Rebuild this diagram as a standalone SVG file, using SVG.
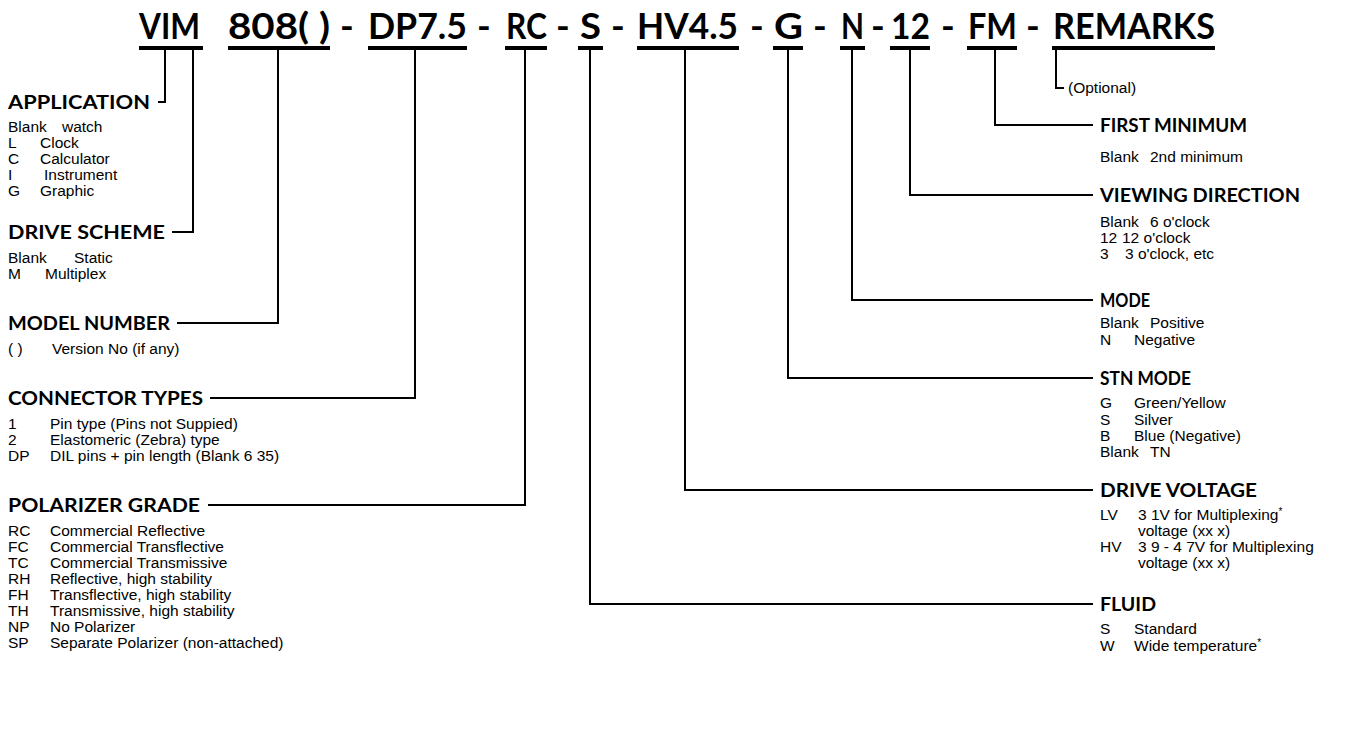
<svg xmlns="http://www.w3.org/2000/svg" width="1366" height="731" viewBox="0 0 1366 731">
<style>
.t{font-family:Lato,"Liberation Sans",sans-serif;font-weight:bold;font-size:37px;fill:#000}
.h{font-family:Lato,"Liberation Sans",sans-serif;font-weight:bold;font-size:19px;fill:#000}
.b{font-family:"Liberation Sans",Arial,sans-serif;font-size:15.5px;fill:#000}
.u{fill:#000}
.c{fill:none;stroke:#000;stroke-width:2}
</style>
<rect width="1366" height="731" fill="#fff"/>
<g id="title">
<text class="t" x="139" y="39" textLength="61" lengthAdjust="spacingAndGlyphs">VIM</text>
<text class="t" x="228" y="39" textLength="102" lengthAdjust="spacingAndGlyphs">808(  )</text>
<text class="t" x="347" y="39" text-anchor="middle">-</text>
<text class="t" x="368" y="39" textLength="99" lengthAdjust="spacingAndGlyphs">DP7.5</text>
<text class="t" x="484" y="39" text-anchor="middle">-</text>
<text class="t" x="506" y="39" textLength="41" lengthAdjust="spacingAndGlyphs">RC</text>
<text class="t" x="563" y="39" text-anchor="middle">-</text>
<text class="t" x="580" y="39" textLength="21" lengthAdjust="spacingAndGlyphs">S</text>
<text class="t" x="618" y="39" text-anchor="middle">-</text>
<text class="t" x="637" y="39" textLength="101" lengthAdjust="spacingAndGlyphs">HV4.5</text>
<text class="t" x="757" y="39" text-anchor="middle">-</text>
<text class="t" x="774" y="39" textLength="29" lengthAdjust="spacingAndGlyphs">G</text>
<text class="t" x="820" y="39" text-anchor="middle">-</text>
<text class="t" x="841" y="39" textLength="23" lengthAdjust="spacingAndGlyphs">N</text>
<text class="t" x="878" y="39" text-anchor="middle">-</text>
<text class="t" x="891" y="39" textLength="39" lengthAdjust="spacingAndGlyphs">12</text>
<text class="t" x="948" y="39" text-anchor="middle">-</text>
<text class="t" x="968" y="39" textLength="49" lengthAdjust="spacingAndGlyphs">FM</text>
<text class="t" x="1033" y="39" text-anchor="middle">-</text>
<text class="t" x="1053" y="39" textLength="162" lengthAdjust="spacingAndGlyphs">REMARKS</text>
<rect class="u" x="139" y="46" width="64" height="4"/>
<rect class="u" x="228" y="46" width="102" height="4"/>
<rect class="u" x="368" y="46" width="99" height="4"/>
<rect class="u" x="505" y="46" width="42" height="4"/>
<rect class="u" x="578" y="46" width="25" height="4"/>
<rect class="u" x="637" y="46" width="102" height="4"/>
<rect class="u" x="773" y="46" width="30" height="4"/>
<rect class="u" x="840" y="46" width="25" height="4"/>
<rect class="u" x="890" y="46" width="40" height="4"/>
<rect class="u" x="967" y="46" width="50" height="4"/>
<rect class="u" x="1052" y="46" width="163" height="4"/>
</g>
<g id="connectors">
<polyline class="c" points="165,50 165,102 158,102"/>
<polyline class="c" points="193,50 193,232 172,232"/>
<polyline class="c" points="278,50 278,323 177,323"/>
<polyline class="c" points="415,50 415,398 210,398"/>
<polyline class="c" points="525,50 525,505 208,505"/>
<polyline class="c" points="590,50 590,604 1093,604"/>
<polyline class="c" points="685,50 685,490 1093,490"/>
<polyline class="c" points="788,50 788,378 1093,378"/>
<polyline class="c" points="852,50 852,300 1093,300"/>
<polyline class="c" points="910,50 910,195 1093,195"/>
<polyline class="c" points="995,50 995,125 1093,125"/>
<polyline class="c" points="1056,50 1056,88 1064,88"/>
</g>
<g id="application">
<text class="h" x="8" y="109" textLength="142" lengthAdjust="spacingAndGlyphs">APPLICATION</text>
<text class="b" x="8" y="132">Blank</text><text class="b" x="62" y="132">watch</text>
<text class="b" x="8" y="148">L</text><text class="b" x="40" y="148">Clock</text>
<text class="b" x="8" y="164">C</text><text class="b" x="40" y="164">Calculator</text>
<text class="b" x="8" y="180">I</text><text class="b" x="44" y="180">Instrument</text>
<text class="b" x="8" y="196">G</text><text class="b" x="40" y="196">Graphic</text>
</g>
<g id="drive-scheme">
<text class="h" x="8" y="239" textLength="157" lengthAdjust="spacingAndGlyphs">DRIVE SCHEME</text>
<text class="b" x="8" y="263">Blank</text><text class="b" x="74" y="263">Static</text>
<text class="b" x="8" y="279">M</text><text class="b" x="45" y="279">Multiplex</text>
</g>
<g id="model-number">
<text class="h" x="8" y="330" textLength="162" lengthAdjust="spacingAndGlyphs">MODEL NUMBER</text>
<text class="b" x="8" y="354">(  )</text><text class="b" x="52" y="354">Version No  (if any)</text>
</g>
<g id="connector-types">
<text class="h" x="8" y="405" textLength="195" lengthAdjust="spacingAndGlyphs">CONNECTOR TYPES</text>
<text class="b" x="8" y="429">1</text><text class="b" x="50" y="429">Pin type (Pins not Suppied)</text>
<text class="b" x="8" y="445">2</text><text class="b" x="50" y="445">Elastomeric (Zebra) type</text>
<text class="b" x="8" y="461">DP</text><text class="b" x="50" y="461">DIL pins + pin length (Blank   6 35)</text>
</g>
<g id="polarizer-grade">
<text class="h" x="8" y="512" textLength="192" lengthAdjust="spacingAndGlyphs">POLARIZER GRADE</text>
<text class="b" x="8" y="536">RC</text><text class="b" x="50" y="536">Commercial Reflective</text>
<text class="b" x="8" y="552">FC</text><text class="b" x="50" y="552">Commercial Transflective</text>
<text class="b" x="8" y="568">TC</text><text class="b" x="50" y="568">Commercial Transmissive</text>
<text class="b" x="8" y="584">RH</text><text class="b" x="50" y="584">Reflective, high stability</text>
<text class="b" x="8" y="600">FH</text><text class="b" x="50" y="600">Transflective, high stability</text>
<text class="b" x="8" y="616">TH</text><text class="b" x="50" y="616">Transmissive, high stability</text>
<text class="b" x="8" y="632">NP</text><text class="b" x="50" y="632">No Polarizer</text>
<text class="b" x="8" y="648">SP</text><text class="b" x="50" y="648">Separate Polarizer (non-attached)</text>
</g>
<g id="remarks">
<text class="b" x="1068" y="93">(Optional)</text>
</g>
<g id="first-minimum">
<text class="h" x="1100" y="132" textLength="147" lengthAdjust="spacingAndGlyphs">FIRST MINIMUM</text>
<text class="b" x="1100" y="162">Blank</text><text class="b" x="1150" y="162">2nd minimum</text>
</g>
<g id="viewing-direction">
<text class="h" x="1100" y="202" textLength="200" lengthAdjust="spacingAndGlyphs">VIEWING DIRECTION</text>
<text class="b" x="1100" y="227">Blank</text><text class="b" x="1150" y="227">6 o'clock</text>
<text class="b" x="1100" y="243">12</text><text class="b" x="1122" y="243">12 o'clock</text>
<text class="b" x="1100" y="259">3</text><text class="b" x="1125" y="259">3 o'clock, etc</text>
</g>
<g id="mode">
<text class="h" x="1100" y="307" textLength="50" lengthAdjust="spacingAndGlyphs">MODE</text>
<text class="b" x="1100" y="328">Blank</text><text class="b" x="1150" y="328">Positive</text>
<text class="b" x="1100" y="345">N</text><text class="b" x="1134" y="345">Negative</text>
</g>
<g id="stn-mode">
<text class="h" x="1100" y="385" textLength="91" lengthAdjust="spacingAndGlyphs">STN MODE</text>
<text class="b" x="1100" y="408">G</text><text class="b" x="1134" y="408">Green/Yellow</text>
<text class="b" x="1100" y="425">S</text><text class="b" x="1134" y="425">Silver</text>
<text class="b" x="1100" y="441">B</text><text class="b" x="1134" y="441">Blue (Negative)</text>
<text class="b" x="1100" y="457">Blank</text><text class="b" x="1150" y="457">TN</text>
</g>
<g id="drive-voltage">
<text class="h" x="1100" y="497" textLength="157" lengthAdjust="spacingAndGlyphs">DRIVE VOLTAGE</text>
<text class="b" x="1100" y="520">LV</text><text class="b" x="1138" y="520">3 1V for Multiplexing<tspan dy="-5" font-size="10">*</tspan></text>
<text class="b" x="1138" y="536">voltage (xx x)</text>
<text class="b" x="1100" y="552">HV</text><text class="b" x="1138" y="552">3 9 - 4 7V for Multiplexing</text>
<text class="b" x="1138" y="568">voltage (xx x)</text>
</g>
<g id="fluid">
<text class="h" x="1100" y="611" textLength="56" lengthAdjust="spacingAndGlyphs">FLUID</text>
<text class="b" x="1100" y="634">S</text><text class="b" x="1134" y="634">Standard</text>
<text class="b" x="1100" y="651">W</text><text class="b" x="1134" y="651">Wide temperature<tspan dy="-5" font-size="10">*</tspan></text>
</g>
</svg>
